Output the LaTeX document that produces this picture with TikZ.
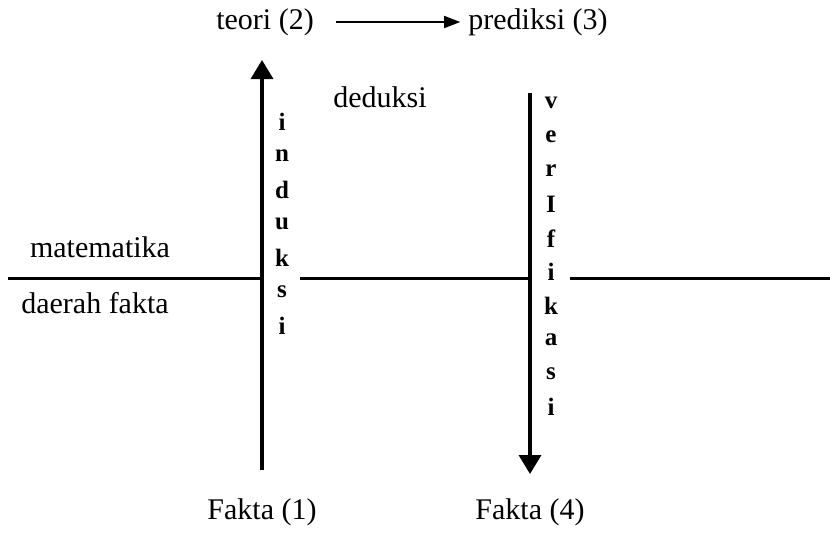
\documentclass[tikz,border=0pt]{standalone}
\usepackage{fontspec}
\setmainfont{Liberation Serif}
\usetikzlibrary{arrows.meta}
\begin{document}
\begin{tikzpicture}[x=1pt,y=-1pt,
  lbl/.style={font=\fontsize{30}{32}\selectfont, inner sep=0pt},
  letter/.style={font=\fontsize{25}{27}\selectfont\bfseries, inner sep=0pt},
  mainarrow/.style={line width=3.5pt, -{Triangle[length=19pt,width=22pt]}},
  toparrow/.style={line width=1.5pt, -{Triangle[length=16pt,width=12pt]}},
  boundary/.style={line width=3pt}]
\useasboundingbox (0,0) rectangle (830,546);
\node[lbl] (teori) at (265,22) {teori (2)};
\node[lbl] (pred) at (538,22) {prediksi (3)};
\node[lbl] (ded) at (380,97) {deduksi};
\node[lbl] (mat) at (100,247) {matematika};
\node[lbl] (daerah) at (95,303) {daerah fakta};
\node[lbl] (f1) at (262,512) {Fakta (1)};
\node[lbl] (f4) at (530,512) {Fakta (4)};
\draw[toparrow] ([xshift=22pt]teori.east) -- ([xshift=-8pt]pred.west);
\coordinate (lb) at (262,470);
\coordinate (lt) at (262,60);
\coordinate (rt) at (530,93);
\coordinate (rb) at (530,474);
\draw[mainarrow] (lb) -- (lt);
\draw[mainarrow] (rt) -- (rb);
\coordinate (h0) at (8,278);
\coordinate (h1) at (300,278);
\coordinate (h2) at (570,278);
\coordinate (h3) at (830,278);
\draw[boundary] (h0) -- (lb |- h0);
\draw[boundary] (h1) -- (rt |- h1);
\draw[boundary] (h2) -- (h3);
\foreach \c [count=\i from 0] in {i,n,d,u,k,s,i}
  \node[letter] (ind\i) at (282,{122+34*\i}) {\c};
\foreach \c [count=\i from 0] in {v,e,r,I,f,i,k,a,s,i}
  \node[letter] (ver\i) at (551,{103+33.8*\i}) {\c};
\end{tikzpicture}
\end{document}
